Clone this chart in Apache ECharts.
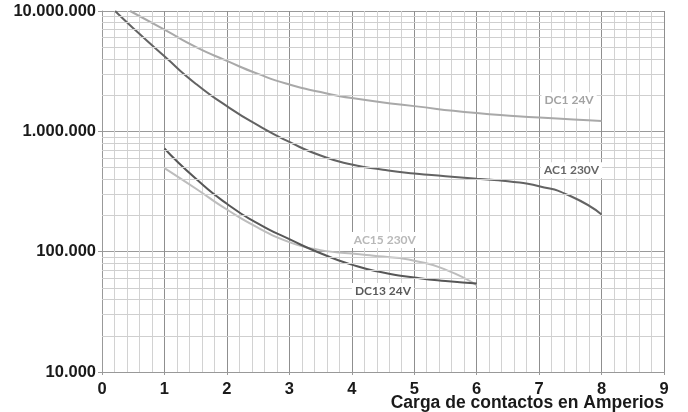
<!DOCTYPE html>
<html>
<head>
<meta charset="utf-8">
<script src="https://cdn.jsdelivr.net/npm/echarts@6/dist/echarts.min.js"></script>
<style>html,body{margin:0;padding:0;background:#fff}#c{width:688px;height:412px}</style>
</head>
<body>
<div id="c"></div>
<script>
// ---- data ----
const dc1X = [0.45, 1, 1.5, 2, 2.5, 3, 3.5, 4, 5, 6, 7, 8];
const dc1Y = [10000000, 7000000, 5030000, 3850000, 3000000, 2450000, 2120000, 1890000, 1620000, 1420000, 1300000, 1220000];

const ac1X = [0.21, 0.5, 1, 1.5, 2, 2.5, 3, 3.5, 4, 4.5, 5, 5.5, 6, 6.5, 7, 7.5, 8];
const ac1Y = [10000000, 7200000, 4200000, 2490000, 1620000, 1120000, 817000, 630000, 530000, 480000, 446000, 424000, 403000, 384000, 350000, 290000, 204000];

const dc13X = [1, 1.5, 2, 2.5, 3, 3.5, 4, 4.5, 5, 5.5, 6];
const dc13Y = [720000, 405000, 250000, 171000, 127000, 97000, 78000, 67000, 61000, 57000, 54500];

const ac15X = [1, 1.5, 2, 2.5, 3, 3.5, 4, 4.5, 5, 5.5, 6];
const ac15Y = [495000, 335000, 224000, 158000, 120000, 103000, 96500, 91000, 84000, 71000, 52700];

const seriesNames = ['DC1 24V', 'AC1 230V', 'AC15 230V', 'DC13 24V'];
const labelX = [7.48, 7.52, 4.53, 4.50];
const labelY = [1810000, 475000, 125000, 47200];

const xTickLabels = ['0','1','2','3','4','5','6','7','8','9'];
const yDecades = [10000, 100000, 1000000, 10000000];
const xAxisTitle = 'Carga de contactos en Amperios';

// ---- build ----
function fmt(v) {
  return String(Math.round(v)).replace(/\B(?=(\d{3})+(?!\d))/g, '.');
}
const zip = (xs, ys) => xs.map((x, i) => [x, ys[i]]);
const yMinor = [];
for (let d = 0; d < yDecades.length - 1; d++) {
  for (let m = 2; m <= 9; m++) yMinor.push(yDecades[d] * m);
}

const colors = ['#a9a9a9', '#636363', '#bdbdbd', '#575757'];
const labelColors = ['#a3a3a3', '#666666', '#b8b8b8', '#5a5a5a'];
const datas = [zip(dc1X, dc1Y), zip(ac1X, ac1Y), zip(ac15X, ac15Y), zip(dc13X, dc13Y)];
const FONT = '"Liberation Sans", Arial, Helvetica, sans-serif';

const series = [{
  type: 'line',
  data: [],
  z: 1,
  silent: true,
  markLine: {
    silent: true,
    symbol: ['none', 'none'],
    label: { show: false },
    lineStyle: { color: '#cfcfcf', type: 'solid', width: 1 },
    emphasis: { disabled: true },
    data: yMinor.map(v => ({ yAxis: v }))
  }
}];
seriesNames.forEach((name, i) => {
  series.push({
    name: name,
    type: 'line',
    data: datas[i],
    smooth: 0.6,
    showSymbol: false,
    symbol: 'none',
    z: 3,
    lineStyle: { color: colors[i], width: 2 },
    markPoint: {
      symbol: 'rect',
      symbolSize: 1,
      itemStyle: { color: 'rgba(0,0,0,0)' },
      data: [{ coord: [labelX[i], labelY[i]] }],
      label: {
        show: true,
        position: 'inside',
        formatter: name,
        color: labelColors[i],
        fontFamily: 'Lato',
        fontWeight: 'bold',
        fontSize: 12,
        backgroundColor: '#ffffff',
        padding: [2, 3, 2, 3]
      }
    }
  });
});

const chart = echarts.init(document.getElementById('c'), null, { renderer: 'canvas' });
chart.setOption({
  animation: false,
  grid: { left: 102, right: 24, top: 11, bottom: 40, containLabel: false, outerBoundsMode: 'none' },
  graphic: [{
    type: 'text',
    right: 24,
    top: 394,
    style: {
      text: xAxisTitle,
      fill: '#1a1a1a',
      font: 'bold 17.5px ' + FONT
    },
    silent: true
  }],
  xAxis: {
    type: 'value',
    min: 0, max: 9, interval: 1,
    axisLine: { show: true, lineStyle: { color: '#999999', width: 1 } },
    axisTick: { show: true, length: 3, lineStyle: { color: '#999999' } },
    axisLabel: {
      margin: 9,
      color: '#1a1a1a',
      fontFamily: FONT,
      fontWeight: 'bold',
      fontSize: 16.5,
      formatter: v => xTickLabels[Math.round(v)]
    },
    splitLine: { show: true, lineStyle: { color: '#8f8f8f', width: 1 } },
    minorTick: { show: false, splitNumber: 5 },
    minorSplitLine: { show: true, lineStyle: { color: '#d2d2d2', width: 1 } }
  },
  yAxis: {
    type: 'log',
    logBase: 10,
    min: 10000, max: 10000000,
    axisLine: { show: true, lineStyle: { color: '#999999', width: 1 } },
    axisTick: { show: true, length: 4, lineStyle: { color: '#999999' } },
    axisLabel: {
      margin: 6,
      color: '#1a1a1a',
      fontFamily: FONT,
      fontWeight: 'bold',
      fontSize: 16.5,
      padding: [3, 0, 0, 0],
      formatter: v => fmt(v)
    },
    splitLine: { show: true, lineStyle: { color: '#9a9a9a', width: 1 } }
  },
  series: series
});
</script>
</body>
</html>
